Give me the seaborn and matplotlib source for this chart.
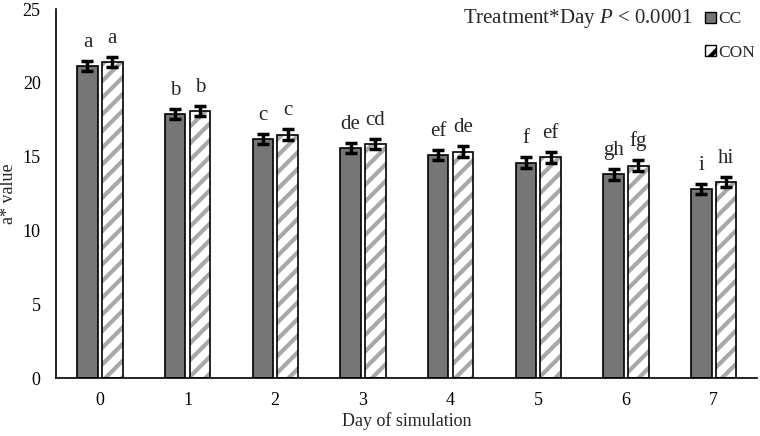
import matplotlib
matplotlib.use("Agg")
import matplotlib.pyplot as plt
from matplotlib.patches import Rectangle, Patch
import seaborn as sns
import pandas as pd

# values
days = [0, 1, 2, 3, 4, 5, 6, 7]
cc_vals = [21.15, 17.9, 16.2, 15.6, 15.1, 14.6, 13.8, 12.8]
con_vals = [21.4, 18.1, 16.5, 15.85, 15.35, 14.95, 14.4, 13.3]
cc_err = [0.35, 0.35, 0.35, 0.35, 0.35, 0.35, 0.35, 0.35]
con_err = [0.35, 0.35, 0.35, 0.35, 0.35, 0.35, 0.35, 0.35]
cc_letters = ["a", "b", "c", "de", "ef", "f", "gh", "i"]
con_letters = ["a", "b", "c", "cd", "de", "ef", "fg", "hi"]

df = pd.DataFrame({
    "Day": days * 2,
    "value": cc_vals + con_vals,
    "Treatment": ["CC"] * len(days) + ["CON"] * len(days),
})

sns.set_style("white")
plt.rcParams["font.family"] = ["Liberation Serif", "DejaVu Serif"]
plt.rcParams["mathtext.fontset"] = "custom"
plt.rcParams["mathtext.it"] = "Liberation Serif:italic"
plt.rcParams["mathtext.rm"] = "Liberation Serif"
plt.rcParams["hatch.linewidth"] = 3.0

fig = plt.figure(figsize=(7.6, 4.36), dpi=100)
ax = fig.add_axes([0.0737, 0.133, 0.923, 0.846])

sns.barplot(data=df, x="Day", y="value", hue="Treatment",
            palette={"CC": "#767676", "CON": "white"},
            width=0.565, gap=0.17, edgecolor="black", linewidth=1.2,
            errorbar=None, legend=False, ax=ax)

hatch_gray = "#a8a8a8"
for bar in ax.containers[1]:
    bar.set_hatch("//")
    bar.set_edgecolor(hatch_gray)
    bar.set_linewidth(0)
    ax.add_patch(Rectangle((bar.get_x(), bar.get_y()), bar.get_width(),
                           bar.get_height(), fill=False,
                           edgecolor="black", linewidth=1.2, zorder=bar.get_zorder() + 0.1))

for cont, vals, errs, letters in [(ax.containers[0], cc_vals, cc_err, cc_letters),
                                   (ax.containers[1], con_vals, con_err, con_letters)]:
    xs = [b.get_x() + b.get_width() / 2 for b in cont]
    ax.errorbar(xs, vals, yerr=errs, fmt="none", ecolor="black",
                elinewidth=2.5, capsize=4, capthick=2.5, zorder=5)
    for x, v, e, lab in zip(xs, vals, errs, letters):
        ax.text(x, v + e + 0.95, lab, ha="center", va="baseline", fontsize=15)

ax.set_ylim(0, 25)
ax.set_xlim(-0.5, 7.5)
ax.set_yticks([0, 5, 10, 15, 20, 25])
ax.tick_params(axis="both", length=0, labelsize=13, colors="black")
ax.tick_params(axis="y", pad=11)
ax.tick_params(axis="x", pad=10)
for s in ["top", "right"]:
    ax.spines[s].set_visible(False)
for s in ["left", "bottom"]:
    ax.spines[s].set_color("black")
    ax.spines[s].set_linewidth(1.2)

ax.set_xlabel("Day of simulation", fontsize=13, labelpad=2)
ax.set_ylabel("a* value", fontsize=13, labelpad=4)

ax.text(0.744, 0.976, "Treatment*Day $\\it{P}$ < 0.0001", transform=ax.transAxes,
        ha="center", va="center", fontsize=15)

handles = [Patch(facecolor="#767676", edgecolor="black", linewidth=1),
           Patch(facecolor="white", edgecolor="black", hatch="//", linewidth=1)]
fig.legend(handles, ["CC", "CON"], loc="upper left", bbox_to_anchor=(0.913, 1.0),
           frameon=False, fontsize=12.5, handlelength=0.6, handleheight=0.6,
           handletextpad=0.15, labelspacing=1.0, borderpad=0.15)

fig.savefig("out.png", dpi=100)
